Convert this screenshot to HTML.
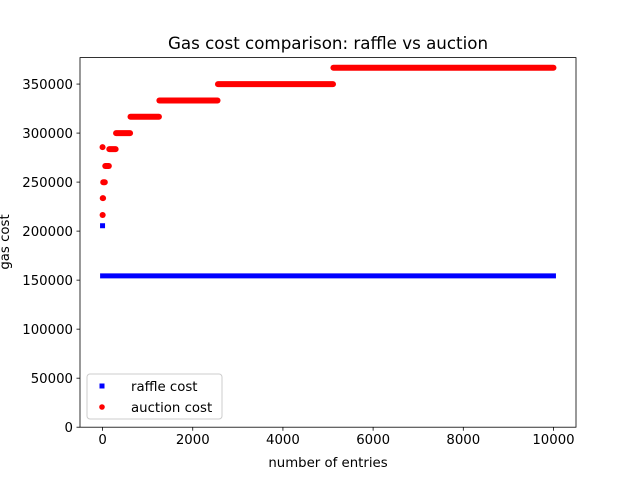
<!DOCTYPE html>
<html><head><meta charset="utf-8"><style>
body{margin:0;background:#fff}
text{font-family:"DejaVu Sans","Liberation Sans",sans-serif;fill:#000}
</style></head><body>
<svg id="c" width="640" height="480" xmlns="http://www.w3.org/2000/svg">
<rect width="640" height="480" fill="#fff"/>
<g id="plot"></g>
</svg>
<script>
const xTicks=[0,2000,4000,6000,8000,10000];
const yTicks=[0,50000,100000,150000,200000,250000,300000,350000];
const auctionStart=[0,1,4,15,60,150,300,620,1260,2560,5120];
const auctionEnd=[0,3,12,50,140,290,610,1250,2550,5110,9999];
const auctionValue=[285700,216500,233600,249900,266400,283600,300000,316700,333300,350000,366600];
const raffleStart=[0,1];
const raffleEnd=[0,9999];
const raffleValue=[205500,154300];

const L=80,R=576,T=57.6,B=427.2;
const xmin=-500,xmax=10499,ymin=0,ymax=377000;
const X=v=>L+(v-xmin)/(xmax-xmin)*(R-L);
const Y=v=>B-(v-ymin)/(ymax-ymin)*(B-T);
const NS="http://www.w3.org/2000/svg";
const g=document.getElementById('plot');
function mk(t,a,p){const e=document.createElementNS(NS,t);for(const k in a)e.setAttribute(k,a[k]);(p||g).appendChild(e);return e;}

for(let i=0;i<raffleValue.length;i++){
  const e=mk('line',{x1:X(raffleStart[i]),x2:X(raffleEnd[i]),y1:Y(raffleValue[i]),y2:Y(raffleValue[i]),stroke:'#0000ff','stroke-width':5,'stroke-linecap':'square'});
  
  
}
for(let i=0;i<auctionValue.length;i++){
  const e=mk('line',{x1:X(auctionStart[i]),x2:X(auctionEnd[i]),y1:Y(auctionValue[i]),y2:Y(auctionValue[i]),stroke:'#ff0000','stroke-width':6,'stroke-linecap':'round'});
  
  
}
const fr=mk('rect',{x:L,y:T,width:R-L,height:B-T,fill:'none',stroke:'#000','stroke-width':0.8});


xTicks.forEach(v=>{
  mk('line',{x1:X(v),x2:X(v),y1:B,y2:B+3.5,stroke:'#000','stroke-width':0.8});
  const t=mk('text',{x:X(v),y:B+17,'text-anchor':'middle','font-size':'13.3'});t.textContent=v;
  
  
});
yTicks.forEach(v=>{
  mk('line',{x1:L-3.5,x2:L,y1:Y(v),y2:Y(v),stroke:'#000','stroke-width':0.8});
  const t=mk('text',{x:L-7,y:Y(v)+5,'text-anchor':'end','font-size':'13.3'});t.textContent=v;
  
  
});
let t=mk('text',{x:(L+R)/2,y:49,'text-anchor':'middle','font-size':'16.7'});t.textContent='Gas cost comparison: raffle vs auction';


t=mk('text',{x:(L+R)/2,y:467,'text-anchor':'middle','font-size':'13.3'});t.textContent='number of entries';


t=mk('text',{x:0,y:0,'text-anchor':'middle','font-size':'13.3',transform:'translate(9,242) rotate(-90)'});t.textContent='gas cost';


const lg=mk('g',{});


mk('rect',{x:87,y:374,width:135,height:45,rx:3,fill:'#fff','fill-opacity':0.8,stroke:'#ccc','stroke-width':1},lg);
mk('rect',{x:99.5,y:383.5,width:5,height:5,fill:'#0000ff'},lg);
let l1=mk('text',{x:131,y:391,'font-size':'13.3'},lg);l1.textContent='raffle cost';


mk('circle',{cx:102,cy:407,r:2.8,fill:'#ff0000'},lg);
let l2=mk('text',{x:131,y:412,'font-size':'13.3'},lg);l2.textContent='auction cost';


</script>
</body></html>
